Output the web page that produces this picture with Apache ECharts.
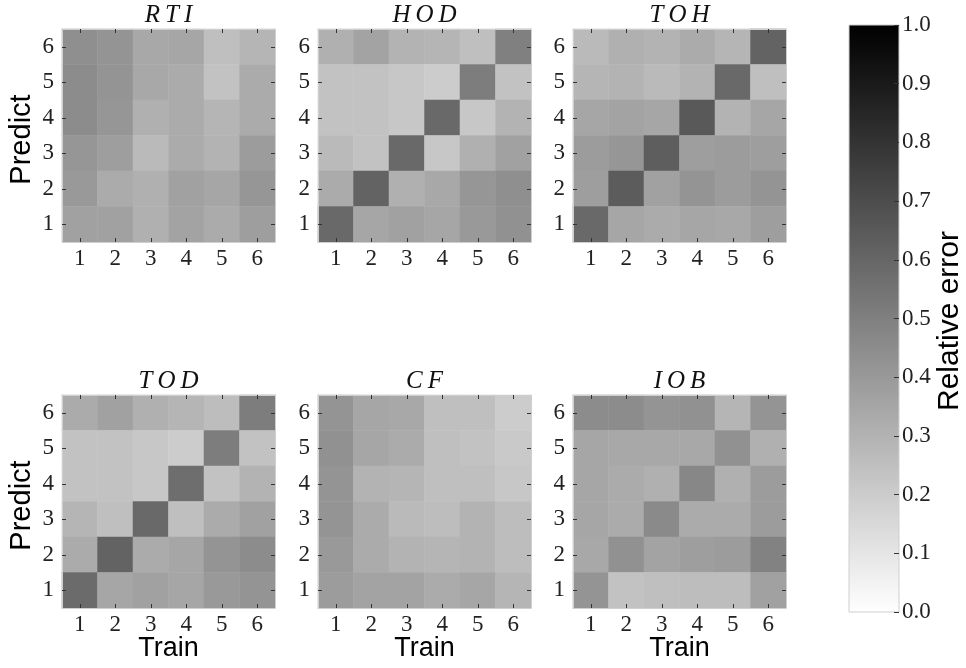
<!DOCTYPE html>
<html>
<head>
<meta charset="utf-8">
<script src="https://cdn.jsdelivr.net/npm/echarts@6/dist/echarts.min.js"></script>
<style>html,body{margin:0;padding:0;background:#fff;}#c{width:966px;height:668px;}</style>
</head>
<body>
<div id="c"></div>
<script>
// Tick labels / categories
const categories = ['1', '2', '3', '4', '5', '6'];
const colorbarTicks = [0, 0.1, 0.2, 0.3, 0.4, 0.5, 0.6, 0.7, 0.8, 0.9, 1.0];
const panelTitles = ['RTI', 'HOD', 'TOH', 'TOD', 'CF', 'IOB'];

// Relative error matrices; rows listed from Predict = 6 (top) to Predict = 1 (bottom),
// columns are Train = 1..6
const rti = [
  [0.44, 0.42, 0.34, 0.35, 0.25, 0.29],
  [0.45, 0.42, 0.34, 0.33, 0.24, 0.33],
  [0.45, 0.41, 0.31, 0.33, 0.29, 0.33],
  [0.41, 0.38, 0.27, 0.33, 0.30, 0.39],
  [0.40, 0.33, 0.31, 0.37, 0.35, 0.41],
  [0.37, 0.37, 0.31, 0.36, 0.33, 0.38]
];
const hod = [
  [0.31, 0.36, 0.30, 0.29, 0.25, 0.50],
  [0.24, 0.24, 0.22, 0.20, 0.51, 0.24],
  [0.24, 0.24, 0.22, 0.59, 0.22, 0.30],
  [0.27, 0.24, 0.59, 0.22, 0.31, 0.37],
  [0.33, 0.61, 0.31, 0.34, 0.41, 0.44],
  [0.59, 0.35, 0.37, 0.35, 0.40, 0.43]
];
const toh = [
  [0.27, 0.31, 0.30, 0.33, 0.29, 0.61],
  [0.29, 0.30, 0.27, 0.30, 0.59, 0.25],
  [0.35, 0.36, 0.35, 0.65, 0.30, 0.35],
  [0.39, 0.41, 0.63, 0.38, 0.39, 0.38],
  [0.38, 0.64, 0.37, 0.42, 0.39, 0.42],
  [0.59, 0.35, 0.33, 0.35, 0.34, 0.38]
];
const tod = [
  [0.33, 0.37, 0.31, 0.29, 0.26, 0.51],
  [0.24, 0.24, 0.22, 0.20, 0.51, 0.24],
  [0.24, 0.24, 0.22, 0.57, 0.24, 0.30],
  [0.29, 0.25, 0.59, 0.25, 0.33, 0.37],
  [0.33, 0.61, 0.33, 0.35, 0.42, 0.45],
  [0.58, 0.35, 0.37, 0.35, 0.40, 0.42]
];
const cf = [
  [0.42, 0.35, 0.34, 0.25, 0.25, 0.20],
  [0.43, 0.35, 0.33, 0.25, 0.24, 0.21],
  [0.42, 0.30, 0.29, 0.25, 0.25, 0.22],
  [0.42, 0.33, 0.27, 0.26, 0.30, 0.26],
  [0.40, 0.33, 0.30, 0.29, 0.30, 0.26],
  [0.39, 0.36, 0.36, 0.33, 0.35, 0.29]
];
const iob = [
  [0.45, 0.45, 0.42, 0.43, 0.29, 0.42],
  [0.35, 0.34, 0.34, 0.34, 0.43, 0.31],
  [0.35, 0.33, 0.31, 0.47, 0.31, 0.39],
  [0.35, 0.33, 0.46, 0.33, 0.33, 0.39],
  [0.34, 0.43, 0.36, 0.38, 0.39, 0.49],
  [0.42, 0.24, 0.25, 0.26, 0.26, 0.37]
];
const matrices = [rti, hod, toh, tod, cf, iob];

// ---- layout ----
const colLefts = [62, 318, 573];
const rowTops = [29, 395];
const SIZE = 213;
const CB = { left: 849, top: 25, width: 50, height: 587 };

const serif = "'Liberation Serif', 'DejaVu Serif', serif";
const sans = "'Liberation Sans', Arial, sans-serif";
const frameColor = '#cfcfcf';
const tickColor = '#333';

function toData(m) {
  const out = [];
  for (let r = 0; r < 6; r++) {
    for (let c = 0; c < 6; c++) {
      out.push([c, 5 - r, m[r][c]]);
    }
  }
  return out;
}

function spaced(t) { return t.split('').join('\u2009'); }

const grids = [], xAxes = [], yAxes = [], series = [], graphics = [];

matrices.forEach((m, i) => {
  const col = i % 3, row = Math.floor(i / 3);
  const left = colLefts[col], top = rowTops[row];
  grids.push({ left: left, top: top, width: SIZE, height: SIZE, containLabel: false });
  const common = {
    type: 'category', data: categories, gridIndex: i, z: 5,
    axisLine: { show: true, onZero: false, lineStyle: { color: frameColor, width: 1 } },
    axisTick: { show: true, inside: true, alignWithLabel: true, length: 4, lineStyle: { color: tickColor, width: 1 } },
    splitLine: { show: false }, splitArea: { show: false }
  };
  xAxes.push(Object.assign({}, common, {
    position: 'bottom',
    axisLabel: { show: true, margin: 5, fontFamily: serif, fontSize: 23, color: '#222' }
  }));
  xAxes.push(Object.assign({}, common, { position: 'top', axisLabel: { show: false } }));
  yAxes.push(Object.assign({}, common, {
    position: 'left',
    axisLabel: { show: true, margin: 8, fontFamily: serif, fontSize: 23, color: '#222' }
  }));
  yAxes.push(Object.assign({}, common, { position: 'right', axisLabel: { show: false } }));
  series.push({
    type: 'heatmap', name: panelTitles[i],
    xAxisIndex: 2 * i, yAxisIndex: 2 * i,
    data: toData(m),
    itemStyle: { borderWidth: 0 },
    emphasis: { disabled: true },
    label: { show: false }
  });
  graphics.push({
    type: 'text', x: left + SIZE / 2, y: top - 14, z: 10,
    style: { text: spaced(panelTitles[i]), font: 'italic 25px ' + serif, fill: '#111', textAlign: 'center', textVerticalAlign: 'middle' }
  });
  if (col === 0) {
    graphics.push({
      type: 'text', x: 22, y: top + SIZE / 2 + 4, rotation: Math.PI / 2, z: 10,
      style: { text: 'Predict', font: '29px ' + sans, fill: '#000', textAlign: 'center', textVerticalAlign: 'middle' }
    });
  }
  if (row === 1) {
    graphics.push({
      type: 'text', x: left + SIZE / 2, y: 649, z: 10,
      style: { text: 'Train', font: '27px ' + sans, fill: '#000', textAlign: 'center', textVerticalAlign: 'middle' }
    });
  }
});

// colorbar axis grid
const cbIndex = matrices.length;
grids.push({ left: CB.left, top: CB.top, width: CB.width, height: CB.height });
xAxes.push({ type: 'value', gridIndex: cbIndex, show: false, min: 0, max: 1 });
yAxes.push({
  type: 'value', gridIndex: cbIndex, position: 'right', min: 0, max: 1, interval: 0.1, z: 5,
  axisLine: { show: false, onZero: false },
  axisTick: { show: true, inside: true, length: 5, lineStyle: { color: tickColor } },
  splitLine: { show: false },
  axisLabel: { show: true, margin: 3, fontFamily: serif, fontSize: 23, color: '#222',
    formatter: v => colorbarTicks.some(t => Math.abs(t - v) < 1e-9) ? v.toFixed(1) : '' }
});

graphics.push({
  type: 'rect', z: 1,
  shape: { x: CB.left, y: CB.top, width: CB.width, height: CB.height },
  style: {
    fill: new echarts.graphic.LinearGradient(0, 0, 0, 1, [
      { offset: 0, color: '#000000' }, { offset: 1, color: '#ffffff' }
    ]),
    stroke: frameColor, lineWidth: 1
  }
});
graphics.push({
  type: 'text', x: 950, y: 321, rotation: Math.PI / 2, z: 10,
  style: { text: 'Relative error', font: '30px ' + sans, fill: '#000', textAlign: 'center', textVerticalAlign: 'middle' }
});

const chart = echarts.init(document.getElementById('c'), null, { renderer: 'canvas' });
chart.setOption({
  animation: false,
  backgroundColor: '#ffffff',
  grid: grids,
  xAxis: xAxes,
  yAxis: yAxes,
  visualMap: {
    show: false, type: 'continuous', min: 0, max: 1,
    seriesIndex: [0, 1, 2, 3, 4, 5],
    inRange: { color: ['#ffffff', '#000000'] }
  },
  graphic: graphics,
  series: series
});
</script>
</body>
</html>
